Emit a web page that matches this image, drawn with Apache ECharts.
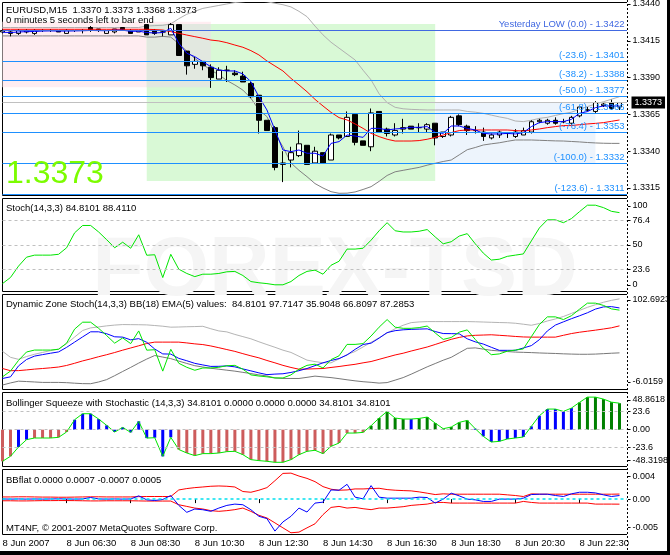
<!DOCTYPE html>
<html><head><meta charset="utf-8">
<script src="https://cdn.jsdelivr.net/npm/echarts@6/dist/echarts.min.js"></script>
<style>
html,body{margin:0;padding:0;background:#fff;}
#wrap{position:relative;width:670px;height:555px;overflow:hidden;}
#chart{position:absolute;left:0;top:0;width:670px;height:555px;}
#frame{position:absolute;left:0;top:0;width:670px;height:555px;box-sizing:border-box;border-right:3px solid #000;border-bottom:4px solid #000;pointer-events:none;}
</style></head><body>
<div id="wrap"><div id="chart"></div><div id="frame"></div></div>
<script>
// ---------- DATA ----------
const categories = ['04:30','04:45','05:00','05:15','05:30','05:45','06:00','06:15','06:30','06:45','07:00','07:15','07:30','07:45','08:00','08:15','08:30','08:45','09:00','09:15','09:30','09:45','10:00','10:15','10:30','10:45','11:00','11:15','11:30','11:45','12:00','12:15','12:30','12:45','13:00','13:15','13:30','13:45','14:00','14:15','14:30','14:45','15:00','15:15','15:30','15:45','16:00','16:15','16:30','16:45','17:00','17:15','17:30','17:45','18:00','18:15','18:30','18:45','19:00','19:15','19:30','19:45','20:00','20:15','20:30','20:45','21:00','21:15','21:30','21:45','22:00','22:15','22:30','22:45','23:00','23:15','23:30','23:45','00:00'];
const xTickIdx = [0,8,16,24,32,40,48,56,64,72];
const xTickText = ['8 Jun 2007','8 Jun 06:30','8 Jun 08:30','8 Jun 10:30','8 Jun 12:30','8 Jun 14:30','8 Jun 16:30','8 Jun 18:30','8 Jun 20:30','8 Jun 22:30'];

const openP = [1.3421,1.3420,1.3420,1.3421,1.3420,1.3422,1.3422,1.3422,1.3420,1.3422,
1.3422,1.3424,1.3423,1.3420,1.3421,1.3424,1.3422,1.3421,1.3426,1.3422,
1.3421,1.3419,1.3426,1.3408,1.3399,1.3401,1.3397,1.3389,1.3395,1.3393,
1.3391,1.3386,1.3378,1.3361,1.3356,1.3331,1.3334,1.3337,1.3344,1.3332,
1.3339,1.3334,1.3351,1.3350,1.3365,1.3347,1.3343,1.3367,1.3355,1.3351,
1.3355,1.3357,1.3356,1.3355,1.3359,1.3350,1.3351,1.3364,1.3357,1.3354,
1.3353,1.3349,1.3351,1.3352,1.3350,1.3351,1.3353,1.3360,1.3359,1.3361,
1.3360,1.3359,1.3364,1.3368,1.3367,1.3371,1.3373,1.3370];
const highP = [1.3423,1.3422,1.3423,1.3423,1.3423,1.3423,1.3423,1.3422,1.3423,1.3422,
1.3423,1.3425,1.3423,1.3422,1.3423,1.3424,1.3423,1.3422,1.3426,1.3423,
1.3422,1.3427,1.3426,1.3408,1.3404,1.3401,1.3399,1.3397,1.3398,1.3395,
1.3394,1.3387,1.3378,1.3361,1.3357,1.3340,1.3343,1.3354,1.3344,1.3343,
1.3339,1.3352,1.3351,1.3367,1.3365,1.3347,1.3369,1.3367,1.3356,1.3359,
1.3362,1.3357,1.3359,1.3359,1.3359,1.3353,1.3364,1.3365,1.3358,1.3357,
1.3356,1.3352,1.3354,1.3353,1.3355,1.3356,1.3361,1.3362,1.3362,1.3363,
1.3362,1.3364,1.3370,1.3370,1.3374,1.3373,1.3375,1.3373];
const lowP = [1.3420,1.3418,1.3419,1.3420,1.3419,1.3421,1.3421,1.3421,1.3420,1.3421,
1.3420,1.3421,1.3421,1.3420,1.3420,1.3422,1.3420,1.3421,1.3419,1.3419,
1.3418,1.3419,1.3405,1.3392,1.3396,1.3395,1.3383,1.3389,1.3387,1.3391,
1.3387,1.3376,1.3352,1.3354,1.3327,1.3319,1.3329,1.3336,1.3331,1.3332,
1.3332,1.3334,1.3348,1.3350,1.3344,1.3344,1.3340,1.3353,1.3350,1.3350,
1.3352,1.3355,1.3353,1.3353,1.3344,1.3349,1.3350,1.3357,1.3351,1.3352,
1.3347,1.3348,1.3349,1.3349,1.3349,1.3351,1.3352,1.3359,1.3358,1.3358,
1.3359,1.3358,1.3363,1.3367,1.3366,1.3370,1.3368,1.3368];
const closeP = [1.3422,1.3421,1.3422,1.3422,1.3422,1.3422,1.3422,1.3421,1.3422,1.3422,
1.3422,1.3422,1.3422,1.3422,1.3423,1.3422,1.3420,1.3422,1.3419,1.3420,
1.3421,1.3426,1.3405,1.3398,1.3401,1.3398,1.3390,1.3395,1.3395,1.3392,
1.3387,1.3377,1.3361,1.3354,1.3329,1.3332,1.3339,1.3345,1.3331,1.3340,
1.3332,1.3351,1.3349,1.3363,1.3346,1.3344,1.3366,1.3353,1.3352,1.3354,
1.3356,1.3355,1.3356,1.3358,1.3349,1.3353,1.3363,1.3358,1.3354,1.3354,
1.3350,1.3351,1.3353,1.3352,1.3353,1.3354,1.3360,1.3361,1.3361,1.3359,
1.3360,1.3363,1.3370,1.3368,1.3373,1.3372,1.3369,1.3373];

const maSlow = [1.34228,1.34228,1.34228,1.34228,1.34228,1.34228,1.34228,1.34228,1.34228,1.34228,
1.34228,1.34228,1.34228,1.34228,1.34228,1.34228,1.34228,1.34228,1.34228,1.34226,
1.34223,1.34212,1.34201,1.34189,1.34178,1.34167,1.34155,1.34149,1.34137,1.34121,
1.34106,1.34083,1.34054,1.34013,1.33979,1.33945,1.33895,1.33850,1.33804,1.33752,
1.33707,1.33664,1.33628,1.33612,1.33585,1.33555,1.33521,1.33499,1.33481,1.33469,
1.33469,1.33469,1.33472,1.33481,1.33494,1.33510,1.33526,1.33540,1.33544,1.33544,
1.33544,1.33544,1.33544,1.33544,1.33540,1.33537,1.33544,1.33551,1.33560,1.33567,
1.33574,1.33574,1.33580,1.33585,1.33589,1.33594,1.33603,1.33612];
const maFast = [1.34208,1.34206,1.34210,1.34212,1.34213,1.34216,1.34217,1.34216,1.34216,1.34217,
1.34218,1.34220,1.34219,1.34218,1.34222,1.34222,1.34214,1.34215,1.34206,1.34203,
1.34206,1.34235,1.34133,1.34065,1.34042,1.34008,1.33974,1.33952,1.33945,1.33945,
1.33925,1.33872,1.33770,1.33680,1.33544,1.33408,1.33397,1.33408,1.33386,1.33386,
1.33367,1.33453,1.33465,1.33510,1.33503,1.33494,1.33555,1.33555,1.33544,1.33551,
1.33555,1.33562,1.33562,1.33567,1.33528,1.33521,1.33571,1.33571,1.33555,1.33544,
1.33521,1.33517,1.33517,1.33521,1.33517,1.33526,1.33567,1.33594,1.33601,1.33601,
1.33601,1.33616,1.33657,1.33669,1.33696,1.33707,1.33707,1.33707];
const bandUp = [1.34240,1.34240,1.34240,1.34240,1.34240,1.34240,1.34240,1.34240,1.34240,1.34240,
1.34240,1.34240,1.34240,1.34240,1.34240,1.34240,1.34240,1.34240,1.34250,1.34253,
1.34255,1.34265,1.34300,1.34330,1.34350,1.34370,1.34380,1.34390,1.34400,1.34410,
1.34415,1.34420,1.34420,1.34415,1.34405,1.34395,1.34380,1.34350,1.34314,1.34250,
1.34190,1.34140,1.34100,1.34060,1.34020,1.33950,1.33884,1.33790,1.33730,1.33698,
1.33688,1.33684,1.33682,1.33680,1.33680,1.33680,1.33680,1.33680,1.33670,1.33665,
1.33657,1.33645,1.33633,1.33623,1.33605,1.33601,1.33610,1.33623,1.33630,1.33643,
1.33655,1.33665,1.33685,1.33703,1.33720,1.33736,1.33753,1.33770];
const bandLo = [1.34183,1.34183,1.34183,1.34183,1.34183,1.34183,1.34183,1.34183,1.34183,1.34183,
1.34183,1.34183,1.34183,1.34183,1.34183,1.34183,1.34183,1.34183,1.34175,1.34175,
1.34180,1.34175,1.34130,1.34080,1.34030,1.33990,1.33950,1.33920,1.33880,1.33850,
1.33815,1.33760,1.33680,1.33635,1.33520,1.33430,1.33320,1.33270,1.33227,1.33180,
1.33150,1.33125,1.33114,1.33115,1.33123,1.33140,1.33159,1.33195,1.33235,1.33260,
1.33270,1.33280,1.33290,1.33305,1.33318,1.33330,1.33340,1.33375,1.33410,1.33425,
1.33442,1.33450,1.33457,1.33467,1.33476,1.33476,1.33476,1.33474,1.33472,1.33470,
1.33469,1.33466,1.33463,1.33459,1.33456,1.33454,1.33453,1.33453];

const priceTickVals = [1.3440,1.3415,1.3390,1.3365,1.3340,1.3315];
const priceTickText = ['1.3440','1.3415','1.3390','1.3365','1.3340','1.3315'];
const lastPrice = 1.3373;
const fibVals = [1.3422,1.3401,1.3388,1.3377,1.3366,1.3353,1.3332,1.3311];
const fibText = ['Yesterday LOW (0.0) - 1.3422','(-23.6) - 1.3401','(-38.2) - 1.3388','(-50.0) - 1.3377','(-61.8) - 1.3366','(-76.4) - 1.3353','(-100.0) - 1.3332','(-123.6) - 1.3311'];
// session boxes: [fromIndex, toIndex, topPrice, bottomPrice]
const boxPink  = [0, 26, 1.3428, 1.33834];
const boxGreen = [18, 54, 1.34264, 1.33198];
const boxBlue  = [54, 74, 1.33734, 1.3332];

const stoch = [8.5,15.1,27.3,36.9,39.1,39.1,39.1,40,47,63.1,
71,71,64,55.7,47,53,46.5,61,39,39.5,
15,40,24,19.4,16,18.6,18.6,19.4,21.2,21.6,
17.2,10.7,9.4,8.5,7.2,7.2,10.7,17.2,21.6,23,
18.6,28.2,32.5,45.6,45.6,46.5,55.2,65.3,74,65.3,
64,64,64.8,66.6,58.7,51.3,53.5,59.6,62.2,51.3,
41.3,33.8,34.7,37.8,39.1,40.4,54.4,68.3,77.1,77.1,
74,78.4,85.8,92.8,92.8,90.2,86.2,84.81];
const stochLevels = [76.4,50,23.6];
const stochTickPos = [92,76.4,50,23.6,7];
const stochTickText = ['100','76.4','50','23.6','0'];

const dzUpper = [37.7,30.8,28.5,31.7,34.3,36.4,38.5,40.3,46.5,54,
61.5,64.5,65.6,66.8,67.7,68.3,68.2,68.1,67.9,67.2,
66.4,65.3,65.5,65.8,66,66.3,63.5,61,59.9,57,
54.5,52,48.6,45.4,42.3,39,36.4,32,27.6,25.9,
24.6,24.5,29,34,37.5,42.7,48,53.2,58.6,63.5,
67.5,70.5,71.3,71.7,71.7,71.7,71.7,71.7,71.7,71.5,
71.2,70.9,70.6,70.4,69.8,68.7,67.5,69.5,72.4,74.7,
77.5,81,84.5,88,91,93.8,96,97.7];
const dzLower = [-0.9,1.5,3.5,3.1,2.6,2.1,2.1,2.1,1.8,1.2,
0.7,0.6,2.6,5.3,9.8,14.6,19.3,24.2,28.8,32.9,
31.1,29.3,26.5,23.8,21.2,19.7,18.3,17.2,16.1,15,
13.6,12.2,10.7,9.5,7.2,6.6,6.6,6.6,7.9,9.3,
8.4,7.6,6.4,5.1,3.9,2.9,2.2,1.3,1.9,4.7,
7.6,11.5,15.7,19.9,23.7,27.5,30.8,36,41.1,41.6,
40.2,38.8,38.1,37.4,36.8,36.5,36.2,35.8,35.5,35.2,
34.8,34.5,34.3,34.3,34.5,35,35.5,35.9];
const dzMid = [18,15.5,15.6,16.4,17.3,18,18.8,19.7,21.5,24,
26.7,29,31.5,33.8,36.3,39,41.5,44,46.6,48.2,
48.2,48.2,48.2,47.3,46.2,45.4,43.8,41.8,39.7,37.6,
35,32.5,30.2,27.2,24.5,21.6,19.2,17.2,17.4,17.7,
18,19.2,20.3,21.6,22.8,24.5,26,28.5,31,33.5,
35.5,38,40.3,42.6,45.5,48.5,51.4,53.6,55.3,56,
56.3,56.6,56,55.4,54.7,54.1,53.9,53.9,53.9,53.9,
56,58,59.5,60.7,61.9,63.2,64.6,66.8];
const dzEma = [6.6,8.5,21,28.3,32.2,33.9,35.5,37,42.2,48.2,
54.2,60,60,57.8,54.3,53.9,50.8,52.2,48,40.3,
34.7,34.5,29.6,26.9,23.9,22.1,20.4,20.5,21,19.9,
17.5,15.3,13,11,11.6,12,13.5,15.5,18,21.3,
24.5,27.2,29.4,33.5,39.9,45.5,47,52.8,59.1,61.3,
62.3,62.8,63.1,63.4,60.3,58,57.9,57.7,52,48.5,
46,42.3,38.8,38.8,38.8,41.5,44.2,51,61,67.7,
71.4,75,78.3,81.8,86,88.5,88.8,87.3];
const dzTickPos = [96.4,2.6];
const dzTickText = ['102.6923','-6.0159'];

const squeeze = [-41.5,-34.9,-22.7,-13.1,-10.9,-10.9,-10.9,-10,-3,13.1,
21,21,14,5.7,-3,3,-3.5,11,-11,-10.5,
-35,-10,-26,-30.6,-34,-31.4,-31.4,-30.6,-28.8,-28.4,
-32.8,-39.3,-40.6,-41.5,-42.8,-42.8,-39.3,-32.8,-28.4,-27,
-31.4,-21.8,-17.5,-4.4,-4.4,-3.5,5.2,15.3,24,15.3,
14,14,14.8,16.6,8.7,1.3,3.5,9.6,12.2,1.3,
-8.7,-16.2,-15.3,-12.2,-10.9,-9.6,4.4,18.3,27.1,27.1,
24,28.4,35.8,42.8,42.8,40.2,36.2,34.81];
const squeezeState = 'rrbbrrrrrbbbbbbbbbbbbbrrrrrrrrrrrrrrrrrrrrrrrrgggggbgggggggbbbbbbbbbbbbbgggggg'.split('');
const sqLevels = [23.6,0,-23.6];
const sqTickPos = [39,23.6,0,-23.6,-40.7];
const sqTickText = ['48.8618','23.6','0.00','-23.6','-48.3198'];

const bbUp = [.0003,.0003,.00032,.00032,.0003,.00028,.00028,.00026,.00026,.00028,
.0003,.00032,.00032,.0003,.0003,.0003,.0003,.00034,.00036,.00036,
.00036,.00036,.00127,.00146,.00159,.00168,.00178,.00182,.00178,.00168,
.00105,.00095,.00123,.00159,.00255,.00356,.0036,.00319,.00287,.00242,
.00173,.00137,.00123,.00127,.00141,.00141,.00146,.0015,.00132,.00123,
.00118,.00114,.001,.00082,.00063,.00073,.00068,.00068,.00068,.00068,
.00068,.00068,.00068,.00059,.0005,.00036,.00073,.00068,.00068,.00068,
.00068,.00068,.00068,.00068,.00068,.00068,.00068,.0007];
const bbLo = [-.00023,-.00023,-.00025,-.00025,-.00023,-.00021,-.00021,-.0002,-.0002,-.00021,
-.00023,-.00025,-.00025,-.00023,-.00023,-.00023,-.00023,-.00025,-.00027,-.00027,
-.00027,-.00027,-.00078,-.00101,-.00124,-.00137,-.0016,-.00169,-.0016,-.00146,
-.00124,-.0017,-.00224,-.00261,-.00329,-.00398,-.00466,-.00457,-.00398,-.00342,
-.00215,-.00115,-.00101,-.00124,-.00115,-.00133,-.00146,-.00124,-.00124,-.00115,
-.00105,-.00087,-.00078,-.00069,-.00046,-.00046,-.00055,-.00055,-.00055,-.00055,
-.00055,-.00055,-.00055,-.00055,-.00055,-.00032,-.00046,-.00055,-.00055,-.00055,
-.00055,-.00055,-.00055,-.00055,-.00069,-.00069,-.00069,-.0007];
const bbVal = [.00002,0,.00002,0,.00002,0,.00002,.00004,.00002,0,
.00002,.00022,.00002,0,.00002,0,.00002,.00045,-.0001,-.00019,
-.00005,.0005,-.00087,-.00183,-.00137,-.00147,-.00169,-.00124,-.00087,-.00069,
-.00078,-.00147,-.00238,-.0027,-.00443,-.00316,-.00238,-.00124,-.00179,-.00055,
-.00042,.00127,.00123,.00205,.00027,.00004,.00187,.00027,.00013,.00013,
.00013,.00013,.00027,.00022,-.00055,0,.00082,.00045,0,-.0001,
-.00032,-.00032,0,0,0,.00013,.00063,.00068,.00068,.0005,
.00036,.00073,.00095,.00095,.00086,.00059,.00036,.0005];
const bbTickPos = [0.0031,0,-0.0039];
const bbTickText = ['0.004','0.00','-0.005'];

const headerMain = 'EURUSD,M15  1.3370 1.3373 1.3368 1.3373';
const headerTimer = '0 minutes 5 seconds left to bar end';
const headerStoch = 'Stoch(14,3,3) 84.8101 88.4110';
const headerDZ = 'Dynamic Zone Stoch(14,3,3) BB(18) EMA(5) values:  84.8101 97.7147 35.9048 66.8097 87.2853';
const headerSq = 'Bollinger Squeeze with Stochastic (14,3,3) 34.8101 0.0000 0.0000 0.0000 34.8101 34.8101';
const headerBB = 'BBflat 0.0000 0.0007 -0.0007 0.0005';
const footer = 'MT4NF, \u00a9 2001-2007 MetaQuotes Software Corp.';

// ---------- STYLE / LAYOUT ----------
const FONT = '"Liberation Sans", Arial, sans-serif';
const FS = 9.5;
const AFS = 9;
const panels = [
  {top: 2.5, height: 193, min: 1.33099, max: 1.34410},
  {top: 198.5, height: 93, min: 0, max: 100},
  {top: 294.5, height: 95, min: -6.0159, max: 102.6923},
  {top: 392.5, height: 74, min: -48.3198, max: 48.8618},
  {top: 469.5, height: 65, min: -0.0049, max: 0.0041}
];
const sqPalette = {r: '#cd5c5c', b: '#0000ff', g: '#008000'};
const fibColors = ['#4169e1','#1e90ff','#1e90ff','#1e90ff','#1e90ff','#1e90ff','#1e90ff','#1e90ff'];
const GREEN = '#00e600';

function pick(pos, text) {
  return function (v) {
    let b = 0;
    for (let i = 0; i < pos.length; i++) if (Math.abs(pos[i] - v) < Math.abs(pos[b] - v)) b = i;
    return text[b];
  };
}
function xAx(k, labels) {
  const show = i => xTickIdx.indexOf(i) >= 0;
  return {
    type: 'category', gridIndex: k, data: categories, boundaryGap: false,
    axisLine: {show: false}, splitLine: {show: false},
    axisTick: labels ? {show: true, interval: show, length: 4, lineStyle: {color: '#000'}} : {show: false},
    axisLabel: labels ? {show: true, interval: show, formatter: (v, i) => xTickText[xTickIdx.indexOf(i)],
      align: 'left', margin: 4, color: '#000', fontSize: FS, fontFamily: FONT} : {show: false}
  };
}
function yAx(k, pos, text, extra) {
  const p = panels[k];
  const base = {
    type: 'value', gridIndex: k, position: 'right', min: p.min, max: p.max,
    axisLine: {show: false}, splitLine: {show: false},
    axisTick: {show: true, customValues: pos, length: 3, lineStyle: {color: '#000'}},
    axisLabel: {show: true, customValues: pos, formatter: pick(pos, text), margin: 5,
      color: '#000', fontSize: AFS, fontFamily: FONT}
  };
  return Object.assign(base, extra || {});
}
const lineS = (xi, yi, data, color, z) => ({
  type: 'line', xAxisIndex: xi, yAxisIndex: yi, data: data, symbol: 'none', silent: true,
  lineStyle: {color: color, width: 1}, z: z || 3, animation: false
});
const cat = i => categories[i];
const box = (b, color) => [{coord: [cat(b[0]), b[2]], itemStyle: {color: color}}, {coord: [cat(b[1]), b[3]]}];

const chart = echarts.init(document.getElementById('chart'), null, {renderer: 'canvas'});

const fibLines = fibVals.map((v, i) => ({
  yAxis: v, lineStyle: {color: fibColors[i], width: 1, type: 'solid'},
  label: {show: true, position: 'insideEndTop', formatter: fibText[i], color: fibColors[i],
    fontSize: FS, fontFamily: FONT, distance: [0, 1], padding: [0, 3, 0, 0]}
})).concat([{yAxis: lastPrice, lineStyle: {color: '#c0c0c0', width: 1, type: 'solid'}, label: {show: false}}]);

const option = {
  animation: false,
  backgroundColor: '#fff',
  textStyle: {fontFamily: FONT},
  grid: panels.map(p => ({left: 2.5, width: 625, top: p.top, height: p.height, show: true,
    borderColor: '#000', borderWidth: 1, backgroundColor: 'transparent', containLabel: false, outerBoundsMode: 'none'})),
  xAxis: [xAx(0, false), xAx(1, false), xAx(2, false), xAx(3, false), xAx(4, true)],
  yAxis: [
    yAx(0, priceTickVals, priceTickText),
    yAx(0, [lastPrice], [lastPrice.toFixed(4)], {
      axisTick: {show: false},
      axisLabel: {show: true, customValues: [lastPrice], formatter: v => lastPrice.toFixed(4), margin: 4,
        color: '#fff', backgroundColor: '#000', padding: [2, 3, 1, 3], fontSize: AFS, fontFamily: FONT}
    }),
    yAx(1, stochTickPos, stochTickText),
    yAx(2, dzTickPos, dzTickText),
    yAx(3, sqTickPos, sqTickText),
    yAx(4, bbTickPos, bbTickText)
  ],
  series: [
    {
      type: 'line', xAxisIndex: 0, yAxisIndex: 0, data: [], z: 1, silent: true,
      markArea: {silent: true, data: [
        box(boxPink, '#ffedf1'),
        box(boxGreen, '#d9f9d6'),
        [{coord: [cat(boxGreen[0]), boxGreen[2]], itemStyle: {color: '#e2e8e0'}}, {coord: [cat(boxPink[1]), boxPink[3]]}],
        box(boxBlue, '#edf4fc')
      ]}
    },
    Object.assign(lineS(0, 0, bandUp, '#b0b0b0', 2), {
      markLine: {silent: true, symbol: ['none', 'none'], animation: false, precision: 6, data: fibLines}
    }),
    lineS(0, 0, bandLo, '#808080', 2),
    {
      type: 'candlestick', xAxisIndex: 0, yAxisIndex: 0, barWidth: 5, z: 3, silent: true,
      data: openP.map((o, i) => [o, closeP[i], lowP[i], highP[i]]),
      itemStyle: {color: '#fff', color0: '#000', borderColor: '#000', borderColor0: '#000', borderWidth: 1}
    },
    lineS(0, 0, maSlow, '#ff0000', 4),
    lineS(0, 0, maFast, '#0000ff', 4),

    Object.assign(lineS(1, 2, stoch, GREEN, 3), {
      markLine: {silent: true, symbol: ['none', 'none'], animation: false, precision: 4, label: {show: false},
        lineStyle: {color: '#c0c0c0', type: [3, 3], width: 1},
        data: stochLevels.map(v => ({yAxis: v}))}
    }),

    lineS(2, 3, dzUpper, '#b4b4b4', 3),
    lineS(2, 3, dzLower, '#787878', 3),
    lineS(2, 3, dzMid, '#ff0000', 3),
    lineS(2, 3, dzEma, '#0000ff', 3),
    lineS(2, 3, stoch, GREEN, 4),

    {
      type: 'bar', xAxisIndex: 3, yAxisIndex: 4, barWidth: 3, silent: true, z: 2,
      data: squeeze.map((v, i) => ({value: v, itemStyle: {color: sqPalette[squeezeState[i]]}})),
      markLine: {silent: true, symbol: ['none', 'none'], animation: false, precision: 4, label: {show: false},
        lineStyle: {color: '#c0c0c0', type: [3, 3], width: 1},
        data: sqLevels.map(v => ({yAxis: v}))}
    },
    lineS(3, 4, squeeze, GREEN, 4),

    Object.assign(lineS(4, 5, bbUp, '#ff0000', 3), {
      markLine: {silent: true, symbol: ['none', 'none'], animation: false, precision: 6, label: {show: false},
        lineStyle: {color: '#00e0ee', type: [3, 3], width: 1.5},
        data: [{yAxis: 0}]}
    }),
    lineS(4, 5, bbLo, '#ff0000', 3),
    lineS(4, 5, bbVal, '#0000ff', 4)
  ],
  graphic: {elements: [
    {type: 'text', x: 335, y: 272, z: 0, silent: true,
      style: {text: 'FOREX-TSD', fill: '#f5f5f5', fontSize: 84, fontWeight: 'bold', fontFamily: FONT,
        align: 'center', verticalAlign: 'middle'}},
    {type: 'text', x: 6, y: 10.5, z: 100, style: {text: headerMain, fill: '#000', fontSize: FS, fontFamily: FONT, verticalAlign: 'middle'}},
    {type: 'text', x: 6, y: 20.5, z: 100, style: {text: headerTimer, fill: '#000', fontSize: FS, fontFamily: FONT, verticalAlign: 'middle'}},
    {type: 'text', x: 6, y: 174, z: 100, style: {text: lastPrice.toFixed(4), fill: '#7cfc00', fontSize: 32, fontFamily: FONT, verticalAlign: 'middle'}},
    {type: 'text', x: 6, y: 208.5, z: 100, style: {text: headerStoch, fill: '#000', fontSize: FS, fontFamily: FONT, verticalAlign: 'middle'}},
    {type: 'text', x: 6, y: 304, z: 100, style: {text: headerDZ, fill: '#000', fontSize: FS, fontFamily: FONT, verticalAlign: 'middle'}},
    {type: 'text', x: 6, y: 403.5, z: 100, style: {text: headerSq, fill: '#000', fontSize: FS, fontFamily: FONT, verticalAlign: 'middle'}},
    {type: 'text', x: 6, y: 480, z: 100, style: {text: headerBB, fill: '#000', fontSize: FS, fontFamily: FONT, verticalAlign: 'middle'}},
    {type: 'text', x: 6, y: 528, z: 100, style: {text: footer, fill: '#000', fontSize: FS, fontFamily: FONT, verticalAlign: 'middle'}},
    {type: 'line', z: 101, silent: true, shape: {x1: 627.5, y1: 0, x2: 627.5, y2: 551}, style: {stroke: '#fff', lineWidth: 1}},
    {type: 'line', z: 102, silent: true, shape: {x1: 627.5, y1: 0, x2: 627.5, y2: 551}, style: {stroke: '#000', lineWidth: 1, lineDash: [2, 2]}}
  ]}
};
chart.setOption(option);
</script>
</body></html>
